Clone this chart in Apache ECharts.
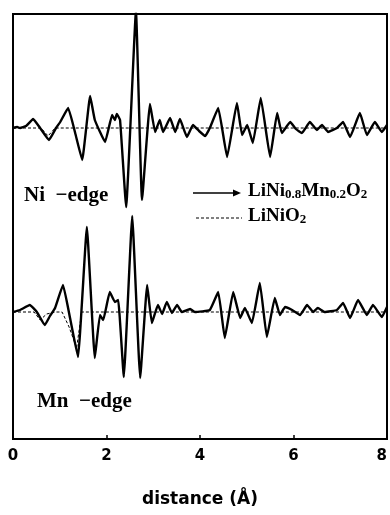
<!DOCTYPE html>
<html>
<head>
<meta charset="utf-8">
<script src="https://cdn.jsdelivr.net/npm/echarts@6/dist/echarts.min.js"></script>
<style>
  html, body { margin: 0; padding: 0; background: #fff; }
  #chart { width: 390px; height: 515px; }
</style>
</head>
<body>
<div id="chart"></div>
<script>
// Ni K-edge, LiNi0.8Mn0.2O2 (solid)
const niDist = [0, 0.09, 0.15, 0.28, 0.43, 0.58, 0.77, 0.92, 1.01, 1.18, 1.33, 1.48, 1.65, 1.75, 1.97, 2.12, 2.18, 2.22, 2.29, 2.42, 2.63, 2.76, 2.93, 3.04, 3.14, 3.21, 3.36, 3.47, 3.57, 3.72, 3.85, 3.98, 4.11, 4.21, 4.39, 4.58, 4.79, 4.90, 5.01, 5.13, 5.30, 5.50, 5.65, 5.75, 5.93, 6.05, 6.18, 6.35, 6.50, 6.61, 6.74, 6.93, 7.06, 7.21, 7.42, 7.57, 7.74, 7.89, 8.0];
const niMixed = [0, 0.02, 0, 0.04, 0.18, 0, -0.24, 0, 0.12, 0.40, -0.10, -0.64, 0.64, 0.16, -0.28, 0.26, 0.16, 0.28, 0.16, -1.58, 2.34, -1.44, 0.48, -0.08, 0.16, -0.08, 0.20, -0.08, 0.18, -0.18, 0.06, -0.06, -0.16, 0, 0.40, -0.58, 0.50, -0.14, 0.06, -0.30, 0.60, -0.58, 0.30, -0.10, 0.12, -0.02, -0.10, 0.12, -0.04, 0.06, -0.08, 0, 0.12, -0.18, 0.30, -0.14, 0.12, -0.08, 0.06];

// Ni K-edge, LiNiO2 (dotted)
const niRefDist = [0, 0.60, 0.75, 0.90, 8.0];
const niRef = [0, 0, -0.16, 0, 0];

// Mn K-edge, LiNi0.8Mn0.2O2 (solid)
const mnDist = [0, 0.15, 0.36, 0.51, 0.68, 0.79, 0.90, 1.07, 1.22, 1.39, 1.58, 1.75, 1.86, 1.93, 2.07, 2.18, 2.25, 2.37, 2.55, 2.72, 2.87, 2.97, 3.10, 3.19, 3.29, 3.40, 3.51, 3.61, 3.79, 3.89, 4.21, 4.39, 4.53, 4.71, 4.86, 4.96, 5.11, 5.28, 5.43, 5.60, 5.71, 5.82, 5.97, 6.14, 6.29, 6.42, 6.52, 6.67, 6.93, 7.06, 7.21, 7.38, 7.57, 7.70, 7.89, 8.0];
const mnMixed = [0, 0.04, 0.14, 0, -0.26, -0.08, 0.08, 0.54, -0.12, -0.90, 1.70, -0.92, -0.06, -0.16, 0.40, 0.20, 0.24, -1.30, 1.92, -1.32, 0.54, -0.22, 0.14, -0.04, 0.20, -0.02, 0.14, 0, 0.06, 0, 0.04, 0.40, -0.52, 0.40, -0.12, 0.08, -0.22, 0.58, -0.50, 0.28, -0.06, 0.10, 0.04, -0.06, 0.14, 0, 0.08, 0, 0.04, 0.18, -0.12, 0.24, -0.06, 0.14, -0.10, 0.10];

// Mn K-edge, LiNiO2 (dotted)
const mnRefDist = [0, 0.45, 0.58, 0.72, 0.90, 1.05, 1.20, 1.36, 1.47, 8.0];
const mnRef = [0, 0, -0.16, -0.04, 0, 0, -0.30, -0.72, 0, 0];

const xTicks = [0, 2, 4, 6, 8];

// vertical offsets of the two stacked spectra
const NI_OFFSET = 6.22;
const MN_OFFSET = 2.54;

function pairs(xs, ys, off) {
  return xs.map((x, i) => [x, ys[i] + off]);
}

const chart = echarts.init(document.getElementById('chart'), null, { renderer: 'canvas' });

const solidStyle = { color: '#000', width: 2.4, join: 'round' };
const dotStyle = { color: '#000', width: 1, type: [3, 2] };
const serif = '"Liberation Serif"';
const richLegend = {
  n: { font: 'bold 19px ' + serif, fill: '#000', verticalAlign: 'bottom', lineHeight: 21 },
  s: { font: 'bold 13px ' + serif, fill: '#000', verticalAlign: 'bottom', lineHeight: 18 }
};

chart.setOption({
  animation: false,
  backgroundColor: '#fff',
  grid: {
    left: 13, right: 3, top: 14, bottom: 76,
    show: true, borderColor: '#000', borderWidth: 2, backgroundColor: 'transparent'
  },
  xAxis: {
    type: 'value', min: 0, max: 8, interval: 2,
    axisLine: { show: false },
    axisTick: { show: true, inside: true, length: 4, lineStyle: { color: '#000', width: 1.5 } },
    splitLine: { show: false },
    axisLabel: {
      color: '#000', fontFamily: 'DejaVu Sans', fontWeight: 'bold', fontSize: 15,
      margin: 10, alignMaxLabel: 'right',
      formatter: v => xTicks.includes(v) ? String(v) : ''
    },
    name: 'distance (Å)', nameLocation: 'middle', nameGap: 52,
    nameTextStyle: { color: '#000', fontFamily: 'DejaVu Sans', fontWeight: 'bold', fontSize: 17 }
  },
  yAxis: {
    type: 'value', min: 0, max: 8.5,
    show: false, splitLine: { show: false }
  },
  series: [
    { type: 'line', data: pairs(niRefDist, niRef, NI_OFFSET), symbol: 'none', lineStyle: dotStyle, z: 2 },
    { type: 'line', data: pairs(niDist, niMixed, NI_OFFSET), symbol: 'none', smooth: 0.1, lineStyle: solidStyle, clip: true, z: 3 },
    { type: 'line', data: pairs(mnRefDist, mnRef, MN_OFFSET), symbol: 'none', lineStyle: dotStyle, z: 2 },
    { type: 'line', data: pairs(mnDist, mnMixed, MN_OFFSET), symbol: 'none', smooth: 0.1, lineStyle: solidStyle, clip: true, z: 3 }
  ],
  graphic: [
    { type: 'text', left: 24, top: 185, style: { text: 'Ni  −edge', font: 'bold 21px ' + serif, fill: '#000' } },
    { type: 'text', left: 37, top: 391, style: { text: 'Mn  −edge', font: 'bold 21px ' + serif, fill: '#000' } },
    // legend: solid with arrow
    { type: 'line', shape: { x1: 193, y1: 193, x2: 236, y2: 193 }, style: { stroke: '#000', lineWidth: 1.6 } },
    { type: 'polygon', shape: { points: [[241, 193], [233, 189.5], [233, 196.5]] }, style: { fill: '#000' } },
    { type: 'text', left: 248, top: 182, style: { rich: richLegend, text: '{n|LiNi}{s|0.8}{n|Mn}{s|0.2}{n|O}{s|2}' } },
    // legend: dotted
    { type: 'line', shape: { x1: 196, y1: 218, x2: 242, y2: 218 }, style: { stroke: '#000', lineWidth: 1, lineDash: [3, 2] } },
    { type: 'text', left: 248, top: 207, style: { rich: richLegend, text: '{n|LiNiO}{s|2}' } }
  ]
});
</script>
</body>
</html>
